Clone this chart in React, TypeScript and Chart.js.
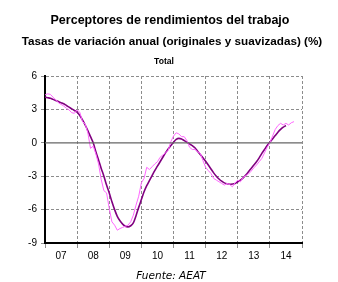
import React, { useEffect, useRef } from "react";
import { Chart, registerables } from "chart.js";

Chart.register(...registerables);

const titleLine1 = "Perceptores de rendimientos del trabajo";
const titleLine2 = "Tasas de variación anual (originales y suavizadas) (%)";
const panelTitle = "Total";
const sourceText = "Fuente: AEAT";

const yearLabels = ["07", "08", "09", "10", "11", "12", "13", "14"];
const yTickValues = [-9, -6, -3, 0, 3, 6];

// Monthly values starting January 2007
const original = [
  4.3, 4.4, 4.35, 4.1, 3.85, 3.6, 3.45, 3.3, 3.1, 2.95, 2.7, 2.65,
  2.95, 2.75, 1.9, 1.7, 0.9, -0.5, -0.3, -1.0, -1.9, -3.3, -4.3, -4.5,
  -5.9, -7.1, -7.4, -7.85, -7.7, -7.6, -7.5, -7.4, -7.1, -6.5, -5.6, -4.8,
  -3.6, -3.2, -2.2, -2.4, -2.15, -1.9, -1.7, -1.3, -1.1, -0.9, -0.7, 0.1,
  0.6, 0.9, 0.8, 0.55, 0.55, 0.2, -0.4, -0.6, -0.6, -0.8, -0.95, -1.6,
  -2.2, -2.5, -2.75, -3.2, -3.35, -3.5, -3.65, -3.8, -3.65, -3.75, -3.95, -3.6,
  -3.35, -3.5, -3.1, -2.95, -2.8, -2.55, -2.25, -2.0, -1.7, -1.4, -0.9, -0.4,
  0.0, 0.6, 1.2, 1.55, 1.75, 1.6, 1.75, 1.6, 1.8, 1.9,
];

const smoothed = [
  4.1, 4.05, 4.0, 3.9, 3.8, 3.7, 3.6, 3.5, 3.35, 3.2, 3.05, 2.9,
  2.75, 2.45, 2.05, 1.6, 1.1, 0.55, 0.0, -0.8, -1.55, -2.3, -3.0, -3.8,
  -4.5, -5.3, -6.0, -6.6, -7.0, -7.3, -7.5, -7.55, -7.45, -7.2, -6.55, -5.8,
  -5.1, -4.4, -3.85, -3.4, -2.95, -2.5, -2.1, -1.7, -1.3, -0.9, -0.55, -0.25,
  0.05, 0.3, 0.4, 0.35, 0.2, 0.05, -0.1, -0.25, -0.45, -0.75, -1.05, -1.35,
  -1.65, -2.0, -2.35, -2.7, -3.0, -3.25, -3.45, -3.6, -3.68, -3.72, -3.7, -3.65,
  -3.5, -3.35, -3.15, -2.9, -2.6, -2.3, -2.0, -1.7, -1.35, -0.95, -0.6, -0.25,
  0.05, 0.35, 0.65, 0.95, 1.2, 1.4, 1.55,
];

const FONT = "'Liberation Sans', Arial, sans-serif";

export default function App() {
  const ref = useRef<HTMLCanvasElement>(null);

  useEffect(() => {
    if (!ref.current) return;
    const textPlugin = {
      id: "fixedTexts",
      afterDraw(chart: any) {
        const ctx = chart.ctx;
        ctx.save();
        ctx.fillStyle = "#000";
        ctx.textAlign = "center";
        ctx.textBaseline = "alphabetic";
        ctx.font = `bold 12.5px ${FONT}`;
        ctx.fillText(titleLine1, 170, 24);
        ctx.font = `bold 11.7px ${FONT}`;
        ctx.fillText(titleLine2, 172, 45);
        ctx.font = `bold 8.6px ${FONT}`;
        ctx.fillText(panelTitle, 164, 64);
        ctx.font = `oblique 10.5px 'DejaVu Sans', Verdana, sans-serif`;
        ctx.fillText(sourceText, 171, 279);
        ctx.restore();
      },
    };

    const months = Array.from({ length: 97 }, (_, i) => i);
    const zeroLine = [
      { x: months[0], y: 0 },
      { x: months[96], y: 0 },
    ];

    const chart = new Chart(ref.current, {
      type: "line",
      data: {
        datasets: [
          {
            data: zeroLine,
            borderColor: "#666666",
            borderWidth: 1.2,
            pointRadius: 0,
          },
          {
            data: original.map((v, i) => ({ x: i, y: v })),
            borderColor: "#ff66ff",
            borderWidth: 1,
            pointRadius: 0,
            tension: 0,
          },
          {
            data: smoothed.map((v, i) => ({ x: i, y: v })),
            borderColor: "#800080",
            borderWidth: 1.6,
            pointRadius: 0,
            cubicInterpolationMode: "monotone",
          },
        ],
      },
      options: {
        responsive: false,
        animation: false,
        layout: { padding: { left: 0, right: 36, top: 76, bottom: 19 } },
        plugins: {
          legend: { display: false },
          tooltip: { enabled: false },
          title: { display: false },
        },
        scales: {
          x: {
            type: "linear",
            min: 0,
            max: 96,
            afterBuildTicks: (scale: any) => {
              scale.ticks = Array.from({ length: 17 }, (_, i) => ({ value: i * 6 }));
            },
            afterFit: (scale: any) => {
              scale.height = 20;
            },
            ticks: {
              autoSkip: false,
              maxRotation: 0,
              color: "#000",
              font: { family: FONT, size: 10 },
              padding: 2,
              callback: (v: any) => {
                const n = Number(v);
                return n % 12 === 6 ? yearLabels[(n - 6) / 12] : "";
              },
            },
            grid: {
              color: (c: any) =>
                c.tick && c.tick.value % 12 === 0 ? "#8c8c8c" : "rgba(0,0,0,0)",
              tickColor: (c: any) =>
                c.tick && c.tick.value % 12 === 0 ? "#8c8c8c" : "rgba(0,0,0,0)",
              tickLength: 5,
              lineWidth: 1,
            },
            border: { color: "#000", width: 2, dash: [3, 2] },
          },
          y: {
            min: -9,
            max: 6,
            afterBuildTicks: (scale: any) => {
              scale.ticks = yTickValues.map((v) => ({ value: v }));
            },
            afterFit: (scale: any) => {
              scale.width = 45;
            },
            ticks: {
              color: "#000",
              font: { family: FONT, size: 10 },
              padding: 4,
            },
            grid: {
              color: (c: any) =>
                c.tick && c.tick.value === 0 ? "rgba(0,0,0,0)" : "#8c8c8c",
              tickColor: "#8c8c8c",
              tickLength: 4,
              lineWidth: 1,
            },
            border: { color: "#000", width: 2, dash: [3, 2] },
          },
        },
      },
      plugins: [textPlugin],
    } as any);

    return () => chart.destroy();
  }, []);

  return (
    <div style={{ position: "absolute", left: 0, top: 0, width: 338, height: 282 }}>
      <canvas ref={ref} width={338} height={282} style={{ display: "block" }} />
    </div>
  );
}
